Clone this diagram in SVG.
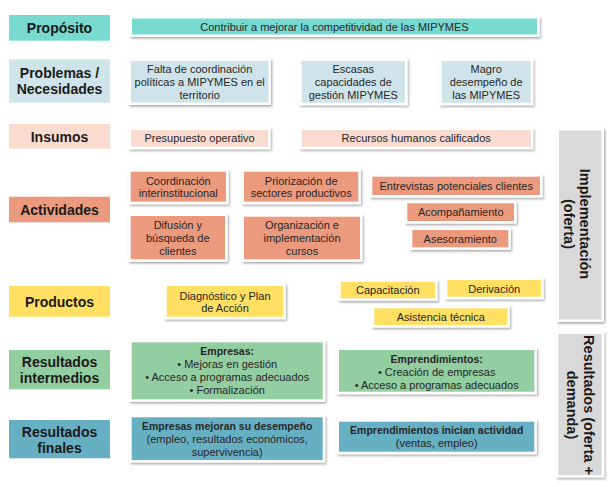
<svg xmlns="http://www.w3.org/2000/svg" width="611" height="487" viewBox="0 0 611 487">
<defs>
<filter id="sh" x="-10%" y="-20%" width="130%" height="150%">
<feDropShadow dx="1.2" dy="1.6" stdDeviation="1.2" flood-color="#000" flood-opacity="0.35"/>
</filter>
<style>
.card{fill:#fff;filter:url(#sh)}
.teal{fill:#77D9CF}.lblue{fill:#CFE4EA}.peach{fill:#FADBD0}.salmon{fill:#EC9A7E}
.yellow{fill:#FFE063}.green{fill:#93CEA0}.blue{fill:#67AFC3}.grey{fill:#D9D9D9}
text{font-family:"Liberation Sans",Arial,sans-serif;fill:#262626;text-anchor:middle;dominant-baseline:central}
.t{font-size:11px}
.b{font-size:10.5px;font-weight:bold}
.lab{font-size:14px;font-weight:bold;fill:#1a1a1a}
.rot{font-size:14.5px;font-weight:bold;fill:#1a1a1a}
</style>
</defs>
<rect width="611" height="487" fill="#fff"/>

<!-- left row labels -->
<g id="lbl-proposito"><rect class="teal" x="9" y="15" width="101" height="25.7"/><text class="lab" x="59.5" y="27.7">Propósito</text></g>
<g id="lbl-problemas"><rect class="lblue" x="9" y="59.3" width="101" height="43.4"/><text class="lab" x="59.5" y="72.7">Problemas /</text><text class="lab" x="59.5" y="89.3">Necesidades</text></g>
<g id="lbl-insumos"><rect class="peach" x="9" y="124" width="101" height="24.7"/><text class="lab" x="59.5" y="136.5">Insumos</text></g>
<g id="lbl-actividades"><rect class="salmon" x="9" y="196.7" width="101" height="25.6"/><text class="lab" x="59.5" y="209.5">Actividades</text></g>
<g id="lbl-productos"><rect class="yellow" x="9" y="286" width="101" height="30.7"/><text class="lab" x="59.5" y="302">Productos</text></g>
<g id="lbl-intermedios"><rect class="green" x="9" y="350" width="101" height="39.3"/><text class="lab" x="59.5" y="361.7">Resultados</text><text class="lab" x="59.5" y="378.3">intermedios</text></g>
<g id="lbl-finales"><rect class="blue" x="9" y="420" width="101" height="38.3"/><text class="lab" x="59.5" y="431.7">Resultados</text><text class="lab" x="59.5" y="448.3">finales</text></g>

<!-- Propósito -->
<g id="purpose"><rect class="card" x="129.5" y="16" width="410" height="21"/><rect class="teal" x="132" y="18.5" width="405" height="16"/><text class="t" x="334.5" y="26.5">Contribuir a mejorar la competitividad de las MIPYMES</text></g>

<!-- Problemas -->
<g id="prob1"><rect class="card" x="128.5" y="58.5" width="142.5" height="46.5"/><rect class="lblue" x="131" y="61" width="137.5" height="41.5"/><text class="t" x="199.7" y="68.5">Falta de coordinación</text><text class="t" x="199.7" y="81.5">políticas a MIPYMES en el</text><text class="t" x="199.7" y="94.5">territorio</text></g>
<g id="prob2"><rect class="card" x="299.2" y="58.5" width="108.3" height="46.7"/><rect class="lblue" x="301.7" y="61" width="103.3" height="41.7"/><text class="t" x="353.3" y="69">Escasas</text><text class="t" x="353.3" y="82">capacidades de</text><text class="t" x="353.3" y="95">gestión MIPYMES</text></g>
<g id="prob3"><rect class="card" x="439.2" y="58.5" width="94" height="46.7"/><rect class="lblue" x="441.7" y="61" width="89" height="41.7"/><text class="t" x="486.2" y="69">Magro</text><text class="t" x="486.2" y="82">desempeño de</text><text class="t" x="486.2" y="95">las MIPYMES</text></g>

<!-- Insumos -->
<g id="in1"><rect class="card" x="128.5" y="127.5" width="142" height="21.7"/><rect class="peach" x="131" y="130" width="137" height="16.7"/><text class="t" x="199.5" y="138">Presupuesto operativo</text></g>
<g id="in2"><rect class="card" x="299.2" y="127.5" width="234" height="21.7"/><rect class="peach" x="301.7" y="130" width="229" height="16.7"/><text class="t" x="416.2" y="138">Recursos humanos calificados</text></g>

<!-- Implementación bar -->
<g id="impl"><rect class="card" x="556.5" y="128" width="47.5" height="194"/><rect class="grey" x="559" y="130.5" width="42.5" height="189"/><text class="rot" transform="translate(577.2,224) rotate(90)"><tspan x="0" y="-8">Implementación</tspan><tspan x="0" y="8">(oferta)</tspan></text></g>

<!-- Actividades -->
<g id="act1"><rect class="card" x="128.2" y="169.2" width="100.3" height="35"/><rect class="salmon" x="130.7" y="171.7" width="95.3" height="30"/><text class="t" x="178.3" y="180.7">Coordinación</text><text class="t" x="178.3" y="193.3">interinstitucional</text></g>
<g id="act2"><rect class="card" x="241.5" y="169.2" width="119.3" height="35"/><rect class="salmon" x="244" y="171.7" width="114.3" height="30"/><text class="t" x="301.2" y="180.7">Priorización de</text><text class="t" x="301.2" y="193.3">sectores productivos</text></g>
<g id="act3"><rect class="card" x="369.8" y="174.2" width="172.7" height="23.3"/><rect class="salmon" x="372.3" y="176.7" width="167.7" height="18.3"/><text class="t" x="456.2" y="186">Entrevistas potenciales clientes</text></g>
<g id="act4"><rect class="card" x="404.8" y="200.8" width="111.7" height="22.7"/><rect class="salmon" x="407.3" y="203.3" width="106.7" height="17.7"/><text class="t" x="460.7" y="212">Acompañamiento</text></g>
<g id="act5"><rect class="card" x="409.8" y="227.5" width="101" height="22.3"/><rect class="salmon" x="412.3" y="230" width="96" height="17.3"/><text class="t" x="460.3" y="238.7">Asesoramiento</text></g>
<g id="act6"><rect class="card" x="128.2" y="213.5" width="99.3" height="48.3"/><rect class="salmon" x="130.7" y="216" width="94.3" height="43.3"/><text class="t" x="177.8" y="224.5">Difusión y</text><text class="t" x="177.8" y="237.5">búsqueda de</text><text class="t" x="177.8" y="250.5">clientes</text></g>
<g id="act7"><rect class="card" x="241.5" y="214.2" width="121" height="47.6"/><rect class="salmon" x="244" y="216.7" width="116" height="42.6"/><text class="t" x="302" y="225">Organización e</text><text class="t" x="302" y="238">implementación</text><text class="t" x="302" y="251">cursos</text></g>

<!-- Productos -->
<g id="prod1"><rect class="card" x="164.2" y="283.5" width="121.6" height="35.7"/><rect class="yellow" x="166.7" y="286" width="116.6" height="30.7"/><text class="t" x="225" y="295.5">Diagnóstico y Plan</text><text class="t" x="225" y="308">de Acción</text></g>
<g id="prod2"><rect class="card" x="338.2" y="279.2" width="99.3" height="21.6"/><rect class="yellow" x="340.7" y="281.7" width="94.3" height="16.6"/><text class="t" x="387.8" y="290">Capacitación</text></g>
<g id="prod3"><rect class="card" x="444.8" y="277.5" width="98.7" height="21.7"/><rect class="yellow" x="447.3" y="280" width="93.7" height="16.7"/><text class="t" x="494.2" y="288.5">Derivación</text></g>
<g id="prod4"><rect class="card" x="371.8" y="305.8" width="138" height="21.7"/><rect class="yellow" x="374.3" y="308.3" width="133" height="16.7"/><text class="t" x="440.8" y="316.5">Asistencia técnica</text></g>

<!-- Resultados intermedios -->
<g id="ri1"><rect class="card" x="129.2" y="339.8" width="196" height="62"/><rect class="green" x="131.7" y="342.3" width="191" height="57"/><text class="b" x="227.2" y="350.7">Empresas:</text><text class="t" x="227.2" y="363.7">• Mejoras en gestión</text><text class="t" x="227.2" y="377">• Acceso a programas adecuados</text><text class="t" x="227.2" y="390">• Formalización</text></g>
<g id="ri2"><rect class="card" x="336.5" y="347.5" width="200.3" height="46.7"/><rect class="green" x="339" y="350" width="195.3" height="41.7"/><text class="b" x="436.7" y="358.5">Emprendimientos:</text><text class="t" x="436.7" y="371.5">• Creación de empresas</text><text class="t" x="436.7" y="384.5">• Acceso a programas adecuados</text></g>

<!-- Resultados finales -->
<g id="rf1"><rect class="card" x="129.2" y="414.8" width="196" height="47.7"/><rect class="blue" x="131.7" y="417.3" width="191" height="42.7"/><text class="b" x="227.2" y="426">Empresas mejoran su desempeño</text><text class="t" x="227.2" y="439">(empleo, resultados económicos,</text><text class="t" x="227.2" y="452">supervivencia)</text></g>
<g id="rf2"><rect class="card" x="336.5" y="419.2" width="200.3" height="35"/><rect class="blue" x="339" y="421.7" width="195.3" height="30"/><text class="b" x="436.7" y="430">Emprendimientos inician actividad</text><text class="t" x="436.7" y="443">(ventas, empleo)</text></g>

<!-- Resultados bar -->
<g id="result"><rect class="card" x="555.8" y="331.5" width="48.4" height="146"/><rect class="grey" x="558.3" y="334" width="43.4" height="141"/><text class="rot" transform="translate(580.5,405) rotate(90)"><tspan x="0" y="-8.8">Resultados (oferta +</tspan><tspan x="0" y="8.8">demanda)</tspan></text></g>

<g id="connectors"/>
</svg>
